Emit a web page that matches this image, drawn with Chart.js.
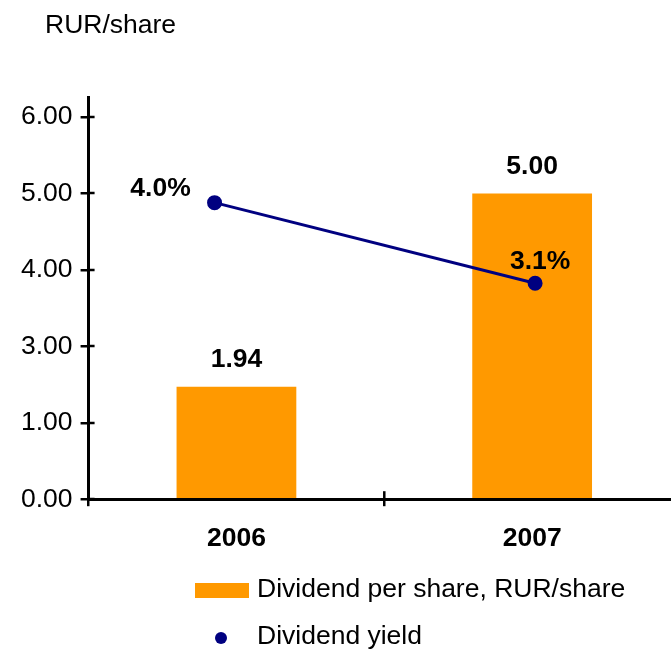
<!DOCTYPE html>
<html lang="en">
<head>
    <meta charset="UTF-8">
    <title>Dividend per share and dividend yield</title>
    <script src="https://cdn.jsdelivr.net/npm/chart.js"></script>
    <style>
        html, body { margin: 0; padding: 0; background: #fff; overflow: hidden; }
        /* canvas a bit wider than the window: the axis runs off the right edge */
        .wrap { width: 690px; height: 649px; }
    </style>
</head>
<body>
    <div class="wrap">
        <canvas id="myChart" width="690" height="649"></canvas>
    </div>

    <script>
        // data
        const years = ['2006', '2007'];
        const dividend = [1.94, 5.00];      // RUR/share
        const yieldPct = [4.0, 3.1];        // %
        const tickValues = [0, 1, 3, 4, 5, 6]; // y axis labels as printed (2.00 missing)

        const FONT = "'Liberation Sans', Arial, sans-serif";
        const FS = 26.5;
        const ORANGE = '#FF9900';
        const NAVY = '#000080';

        // the printed axis is evenly spaced but labelled 0,1,3,4,5,6 -> map value to tick slot
        function toSlot(v) {
            for (let i = 0; i < tickValues.length - 1; i++) {
                const a = tickValues[i], b = tickValues[i + 1];
                if (v >= a && v <= b) return i + (v - a) / (b - a);
            }
            return tickValues.length - 1;
        }

        const extras = {
            id: 'extras',
            afterDraw(chart) {
                const ctx = chart.ctx;
                const y = chart.scales.y, x = chart.scales.x;
                const area = chart.chartArea;
                ctx.save();

                // unit label
                ctx.fillStyle = '#000';
                ctx.font = FS + 'px ' + FONT;
                ctx.textAlign = 'left';
                ctx.textBaseline = 'alphabetic';
                ctx.fillText('RUR/share', 45, 33);

                // tick marks cross the axes
                ctx.strokeStyle = '#000';
                ctx.lineWidth = 2.5;
                y.ticks.forEach(t => {
                    const py = Math.round(y.getPixelForValue(t.value));
                    ctx.beginPath();
                    ctx.moveTo(area.left, py);
                    ctx.lineTo(area.left + 6, py);
                    ctx.stroke();
                });
                const mid = (x.getPixelForValue(0) + x.getPixelForValue(1)) / 2;
                ctx.beginPath();
                ctx.moveTo(mid, area.bottom);
                ctx.lineTo(mid, area.bottom - 8);
                ctx.stroke();

                // value labels
                ctx.font = 'bold ' + FS + 'px ' + FONT;
                ctx.textAlign = 'center';
                ctx.textBaseline = 'middle';
                chart.getDatasetMeta(0).data.forEach((bar, i) => {
                    ctx.fillText(dividend[i].toFixed(2), bar.x, bar.y - 27);
                });
                const off = [[-54, -14], [5, -22]];
                chart.getDatasetMeta(1).data.forEach((pt, i) => {
                    ctx.fillText(yieldPct[i].toFixed(1) + '%', pt.x + off[i][0], pt.y + off[i][1]);
                });

                // legend, one item per row
                const ds = chart.data.datasets;
                ctx.font = FS + 'px ' + FONT;
                ctx.textAlign = 'left';
                ctx.fillStyle = ds[0].backgroundColor;
                ctx.fillRect(195, 583, 54, 15);
                ctx.fillStyle = '#000';
                ctx.fillText(ds[0].label, 257, 590);
                ctx.fillStyle = ds[1].pointBackgroundColor;
                ctx.beginPath();
                ctx.arc(221, 638, 6, 0, Math.PI * 2);
                ctx.fill();
                ctx.fillStyle = '#000';
                ctx.fillText(ds[1].label, 257, 637);

                ctx.restore();
            }
        };

        const ctx = document.getElementById('myChart').getContext('2d');

        const myChart = new Chart(ctx, {
            type: 'bar',
            data: {
                labels: years,
                datasets: [{
                    label: 'Dividend per share, RUR/share',
                    data: dividend.map(toSlot),
                    backgroundColor: ORANGE,
                    borderWidth: 0,
                    barPercentage: 0.405,
                    categoryPercentage: 1,
                    grouped: false,
                    order: 2
                }, {
                    type: 'line',
                    label: 'Dividend yield',
                    data: yieldPct.map((v, i) => ({ x: i, y: v })),
                    xAxisID: 'x2',
                    yAxisID: 'y1',
                    borderColor: NAVY,
                    borderWidth: 3,
                    pointBackgroundColor: NAVY,
                    pointBorderColor: NAVY,
                    pointRadius: 6,
                    fill: false,
                    order: 1
                }]
            },
            plugins: [extras],
            options: {
                responsive: false,
                animation: false,
                layout: { padding: { left: 13, right: 10, top: 97, bottom: 77 } },
                plugins: {
                    legend: { display: false },
                    tooltip: { enabled: false }
                },
                scales: {
                    x: {
                        type: 'category',
                        offset: true,
                        grid: { offset: true, drawOnChartArea: false, tickLength: 7, color: '#000', lineWidth: 2.5 },
                        border: { color: '#000', width: 3 },
                        ticks: { color: '#000', padding: 17, font: { family: FONT, size: FS, weight: 'bold' } }
                    },
                    x2: {
                        type: 'linear',
                        display: false,
                        offset: false,
                        grid: { offset: false },
                        min: -0.393,
                        max: 1.452
                    },
                    y: {
                        type: 'linear',
                        min: 0,
                        max: 5.262,
                        afterBuildTicks: axis => {
                            axis.ticks = tickValues.map((_, i) => ({ value: i }));
                        },
                        ticks: {
                            color: '#000',
                            padding: 8,
                            font: { family: FONT, size: FS },
                            callback: v => tickValues[v].toFixed(2)
                        },
                        grid: { drawOnChartArea: false, tickLength: 8, color: '#000', lineWidth: 2.5 },
                        border: { color: '#000', width: 3 }
                    },
                    y1: {
                        type: 'linear',
                        display: false,
                        min: 0.69,
                        max: 5.179
                    }
                }
            }
        });
    </script>
</body>
</html>
